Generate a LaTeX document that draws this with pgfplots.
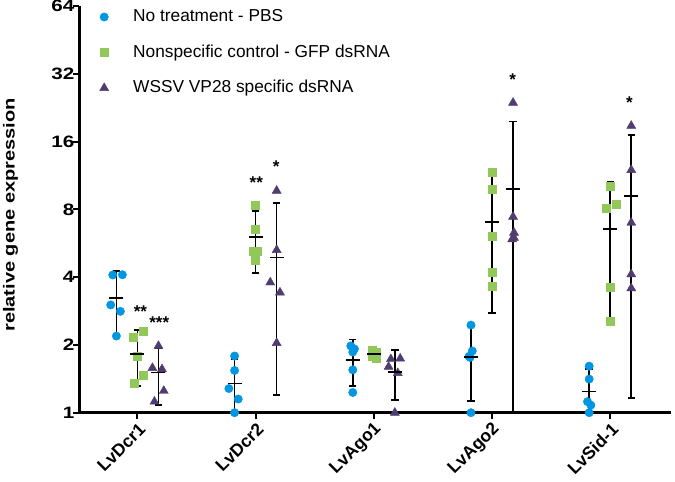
\documentclass[border=0pt]{standalone}
\usepackage{fontspec}
\setmainfont{Liberation Sans}
\newfontfamily\widefont{Liberation Sans}[FakeStretch=1.25]
\usepackage{pgfplots}
\usepackage{pgfplotstable}
\pgfplotsset{compat=1.18}
\definecolor{cblue}{HTML}{0096E1}
\definecolor{cgreen}{HTML}{92C85A}
\definecolor{cpurple}{HTML}{503C6E}

\pgfplotstableread{
x y
-0.209 4.09
-0.127 4.10
-0.226 3.01
-0.144 2.82
-0.178 2.19
0.822 1.786
0.822 1.54
0.774 1.28
0.853 1.15
0.822 1.00
1.805 1.98
1.836 1.92
1.822 1.86
1.822 1.55
1.822 1.23
2.822 2.45
2.833 1.88
2.814 1.76
2.805 1.78
2.822 1.00
3.822 1.61
3.822 1.41
3.808 1.12
3.836 1.08
3.822 1.00
}\blue

\pgfplotstableread{
x y
0.053 2.31
-0.034 2.17
0 1.79
0.051 1.47
-0.031 1.35
1 8.36
1 6.56
0.98 5.24
1.017 5.20
1 4.75
1.983 1.90
2.017 1.86
2 1.82
1.983 1.78
2.017 1.74
3 11.68
3 9.81
3 6.09
3 4.21
3 3.66
4 10.15
4.051 8.42
3.966 8.08
4 3.60
4 2.55
}\green

\pgfplotstableread{
x y
0.178 1.98
0.127 1.58
0.208 1.56
0.223 1.25
0.144 1.12
1.178 9.68
1.178 5.28
1.124 3.79
1.206 3.42
1.178 2.04
2.144 1.73
2.223 1.74
2.125 1.60
2.203 1.50
2.178 1.00
3.178 23.8
3.178 7.42
3.186 6.3
3.186 5.98
3.170 5.89
4.178 18.8
4.178 11.96
4.178 6.98
4.178 4.12
4.178 3.57
}\purple

\pgfplotstableread{
x y e
-0.178 3.23 1.04
0.822 1.35 0.38
1.822 1.71 0.40
2.822 1.77 0.64
3.822 1.24 0.32
}\bluestat

\pgfplotstableread{
x y e
0 1.82 0.51
1 6.02 1.85
2 1.82 0.085
3 7.05 4.28
4 6.56 4.05
}\greenstat

\pgfplotstableread{
x y e
0.178 1.51 0.43
1.178 4.88 3.68
2.178 1.52 0.38
3.178 9.87 9.80
4.178 9.16 8.0
}\purplestat

\begin{document}
\begin{tikzpicture}
\begin{axis}[
  name=ax,
  width=591pt, height=406.7pt, scale only axis,
  ymode=log, log basis y=2,
  ymin=1, ymax=64,
  xmin=-0.49, xmax=4.51,
  ytick={1,2,4,8,16,32,64},
  yticklabels={1,2,4,8,16,32,64},
  xtick={0,1,2,3,4},
  xticklabels={LvDcr1,LvDcr2,LvAgo1,LvAgo2,LvSid-1},
  axis lines=left,
  axis line style={-, line width=3.2pt, black},
  tick style={line width=2pt, black},
  major tick length=6pt,
  minor tick length=0pt,
  tick align=outside,
  /pgf/number format/assume math mode=true,
  yticklabel style={font=\widefont\bfseries\fontsize{16.5}{18}\selectfont, inner sep=1pt, xshift=2pt},
  xticklabel style={font=\bfseries\fontsize{17.5}{19}\selectfont, rotate=45, anchor=east, inner sep=1pt, xshift=-1pt, yshift=-9pt},
  ylabel={relative gene expression},
  ylabel style={font=\widefont\bfseries\fontsize{16}{18}\selectfont, at={(axis description cs:-0.1168,0.486)}, anchor=center},
  legend cell align=left,
  legend style={draw=none, fill=none, at={(rel axis cs:0.0313,0.9943)}, anchor=north west,
    inner sep=0pt, row sep=18.5pt,
    nodes={inner xsep=0pt, inner ysep=0pt, text height=13pt, text depth=4pt, font=\fontsize{17.3}{20}\selectfont}},
  legend image code/.code={\path[draw=none,fill=none] (-6pt,-5pt) rectangle (29pt,5pt); \draw[#1] plot coordinates {(0pt,0pt)};},
]
\addplot[only marks, mark=*, mark size=4.2pt, color=cblue, mark options={draw=cblue, fill=cblue}] table[x=x,y=y] {\blue};
\addlegendentry{No treatment - PBS}
\addplot[only marks, mark=square*, mark size=4pt, color=cgreen, mark options={draw=cgreen, fill=cgreen}] table[x=x,y=y] {\green};
\addlegendentry{Nonspecific control - GFP dsRNA}
\addplot[only marks, mark=triangle*, mark size=5.2pt, color=cpurple, mark options={draw=cpurple, fill=cpurple}] table[x=x,y=y] {\purple};
\addlegendentry{WSSV VP28 specific dsRNA}

\pgfplotsset{statstyle/.style={forget plot, only marks, mark=-, mark size=7pt, mark options={line width=1.6pt, draw=black},
  error bars/.cd, y dir=both, y explicit, error bar style={line width=1.6pt, black},
  error mark=|, error mark options={mark size=3.7pt, line width=1.6pt, black}}}
\addplot[statstyle] table[x=x,y=y,y error=e] {\bluestat};
\addplot[statstyle] table[x=x,y=y,y error=e] {\greenstat};
\addplot[statstyle] table[x=x,y=y,y error=e] {\purplestat};

\node[font=\bfseries\fontsize{17}{17}\selectfont, yshift=-3.5pt] at (axis cs:0.025,2.92) {**};
\node[font=\bfseries\fontsize{17}{17}\selectfont, yshift=-3.5pt] at (axis cs:0.185,2.61) {***};
\node[font=\bfseries\fontsize{17}{17}\selectfont, yshift=-3.5pt] at (axis cs:1.006,10.87) {**};
\node[font=\bfseries\fontsize{17}{17}\selectfont, yshift=-3.5pt] at (axis cs:1.174,12.8) {*};
\node[font=\bfseries\fontsize{17}{17}\selectfont, yshift=-3.5pt] at (axis cs:3.174,31.3) {*};
\node[font=\bfseries\fontsize{17}{17}\selectfont, yshift=-3.5pt] at (axis cs:4.163,24.6) {*};
\end{axis}
\pgfresetboundingbox
\path[use as bounding box] ([xshift=-79.5pt,yshift=-68.3pt]ax.south west) rectangle ([xshift=4.5pt,yshift=6pt]ax.north east);
\end{tikzpicture}
\end{document}
